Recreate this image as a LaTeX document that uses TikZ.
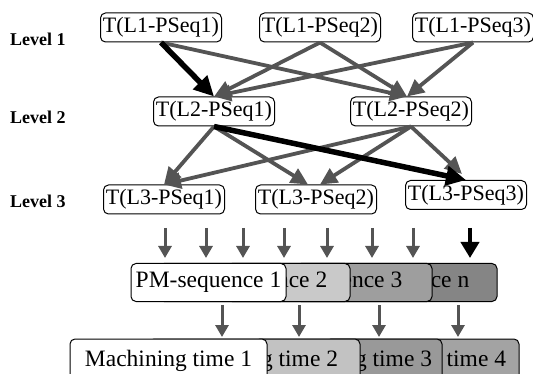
\documentclass[tikz,border=0pt]{standalone}
\usepackage{fontspec}
\setmainfont{Liberation Serif}
\usetikzlibrary{arrows.meta}
\definecolor{edgegray}{gray}{0.33}

\begin{document}
\begin{tikzpicture}[x=1pt,y=-1pt,
	tbox/.style={draw,rounded corners=5pt,line width=1pt,fill=white,minimum width=121pt,minimum height=29pt,inner sep=1pt,font=\fontsize{22}{24}\selectfont},
	seqbox/.style={draw,rounded corners=5pt,line width=1pt,minimum height=38pt,inner sep=1pt,font=\fontsize{23.5}{26}\selectfont},
	timebox/.style={draw,rounded corners=5pt,line width=1pt,minimum height=44pt,inner sep=1pt,font=\fontsize{23.5}{26}\selectfont},
	levellab/.style={anchor=west,inner sep=0pt,font=\fontsize{18}{20}\selectfont\bfseries},
	grayarr/.style={draw=edgegray,line width=3.8pt,-{Triangle[length=17pt,width=16pt]}},
	blackarr/.style={draw=black,line width=5.5pt,-{Triangle[length=20pt,width=19pt]}},
	shortarr/.style={draw=edgegray,line width=3pt,-{Triangle[length=12pt,width=13pt]}},
	shortblack/.style={draw=black,line width=4.5pt,-{Triangle[length=16pt,width=18pt]}}]
	\useasboundingbox (0,0) rectangle (533,374);

	\node[levellab] (lev1) at (10,39) {Level 1};
	\node[levellab] (lev2) at (10,117) {Level 2};
	\node[levellab] (lev3) at (10,201) {Level 3};

	\begin{scope}[every node/.style={tbox}]
		\node (l11) at (161,27.5) {T(L1-PSeq1)};
		\node (l12) at (320,27.5) {T(L1-PSeq2)};
		\node (l13) at (473,27.5) {T(L1-PSeq3)};
		\node (l21) at (214,111.5) {T(L2-PSeq1)};
		\node (l22) at (411,111.5) {T(L2-PSeq2)};
		\node (l31) at (164,199.5) {T(L3-PSeq1)};
		\node (l32) at (316,199.5) {T(L3-PSeq2)};
		\node (l33) at (466,195) {T(L3-PSeq3)};
	\end{scope}

	\draw[grayarr] (l11.south) -- ([xshift=-4]l22.north);
	\draw[grayarr] (l12.south) -- (l21.north);
	\draw[grayarr] (l12.south) -- ([xshift=-4]l22.north);
	\draw[grayarr] (l13.south) -- (l21.north);
	\draw[grayarr] (l13.south) -- ([xshift=-4]l22.north);
	\draw[blackarr] (l11.south) -- (l21.north);

	\draw[grayarr] (l21.south) -- (l31.north);
	\draw[grayarr] (l22.south) -- (l31.north);
	\draw[grayarr] (l21.south) -- ([xshift=-8]l32.north);
	\draw[grayarr] (l22.south) -- ([xshift=4]l32.north);
	\draw[grayarr] (l22.south) -- ([xshift=-4,yshift=6]l33.north);
	\draw[blackarr] (l21.south) -- (l33.north);

	% PM-sequences, back to front
	\node[seqbox,fill=black!48,minimum width=201pt] (pmn) at (396.5,282.5) {PM-sequence n};
	\node[seqbox,fill=black!38,minimum width=205pt] (pm3) at (329.5,282.5) {PM-sequence 3};
	\node[seqbox,fill=black!21,minimum width=191pt] (pm2) at (254.5,282.5) {PM-sequence 2};
	\node[seqbox,fill=white,minimum width=155pt] (pm1) at (208.5,282.5) {PM-sequence 1};

	% machining times, back to front
	\node[timebox,fill=black!36,minimum width=193pt] (mt4) at (422.5,361) {Machining time 4};
	\node[timebox,fill=black!40,minimum width=187pt] (mt3) at (348.5,361) {Machining time 3};
	\node[timebox,fill=black!24,minimum width=211pt] (mt2) at (254.5,361) {Machining time 2};
	\node[timebox,fill=white,minimum width=197pt] (mt1) at (168.5,361) {Machining time 1};

	\foreach \x [count=\i] in {165,206,243,284,327,372,413} {
		\coordinate (a\i) at (\x,228);
		\coordinate (b\i) at (\x,258);
		\draw[shortarr] (a\i) -- (b\i);
	}
	\coordinate (a8) at (470,228);
	\coordinate (b8) at (470,258);
	\draw[shortblack] (a8) -- (b8);

	\foreach \x [count=\i] in {222,299,379,458} {
		\coordinate (c\i) at (\x,305);
		\coordinate (d\i) at (\x,337);
		\draw[shortarr] (c\i) -- (d\i);
	}
\end{tikzpicture}
\end{document}
